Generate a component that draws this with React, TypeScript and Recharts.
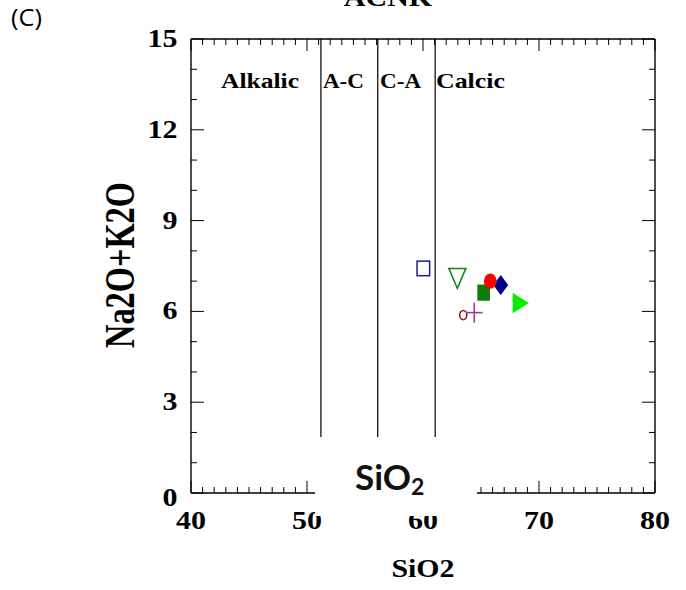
import React from "react";
import { ScatterChart, Scatter, XAxis, YAxis, ReferenceLine } from "recharts";

// sample points: SiO2 vs Na2O+K2O
const sio2 = [60.03, 62.96, 63.47, 64.42, 65.23, 66.7, 65.8, 68.42];
const alkalis = [7.42, 7.09, 5.88, 5.96, 6.62, 6.87, 7.0, 6.28];
const markerKinds = [
  "openSquare",
  "openTriangleDown",
  "openCircle",
  "plus",
  "square",
  "diamond",
  "circle",
  "triangleRight",
];
const markerColors = ["#1c1c8a", "#168016", "#8b1a1a", "#9b3a9b", "#0a7d0a", "#000088", "#ff0000", "#00f000"];

// axes
const xTicks = Array.from({ length: 41 }, (_, i) => 40 + i);
const yTicks = Array.from({ length: 16 }, (_, i) => i);
const xLabelled = [40, 50, 60, 70, 80];
const yLabelled = [0, 3, 6, 9, 12, 15];

// Peacock fields
const fieldNames = ["Alkalic", "A-C", "C-A", "Calcic"];
const fieldBounds = [40, 51.2, 56.1, 61.05];
const fieldLabelWidths = [78, 41, 41, 69];
const fieldLabelDx = [30, 2, 2.3, 0.8];

const serif = "Liberation Serif";
const plotHeight = 454;

function Marker({ cx, cy, kind, color }: any) {
  switch (kind) {
    case "openSquare":
      return <rect x={cx - 6.3} y={cy - 7.3} width={12.6} height={14.6} fill="none" stroke={color} strokeWidth={1.5} />;
    case "openTriangleDown":
      return (
        <polygon
          points={`${cx - 8.5},${cy - 10} ${cx + 8.5},${cy - 10} ${cx},${cy + 10}`}
          fill="none"
          stroke={color}
          strokeWidth={1.5}
        />
      );
    case "openCircle":
      return <ellipse cx={cx} cy={cy} rx={3.6} ry={4.6} fill="none" stroke={color} strokeWidth={1.5} />;
    case "plus":
      return (
        <g stroke={color} strokeWidth={1.6}>
          <line x1={cx - 8.3} x2={cx + 8.3} y1={cy} y2={cy} />
          <line x1={cx} x2={cx} y1={cy - 10} y2={cy + 10} />
        </g>
      );
    case "square":
      return <rect x={cx - 6.3} y={cy - 8.1} width={12.6} height={16.2} fill={color} />;
    case "diamond":
      return <polygon points={`${cx},${cy - 10} ${cx + 7.5},${cy} ${cx},${cy + 10} ${cx - 7.5},${cy}`} fill={color} />;
    case "circle":
      return <ellipse cx={cx} cy={cy} rx={6.4} ry={7.7} fill={color} />;
    case "triangleRight":
      return <polygon points={`${cx - 8},${cy - 10.3} ${cx - 8},${cy + 10.3} ${cx + 8.2},${cy}`} fill={color} />;
    default:
      return null;
  }
}

// bottom axis tick, also mirrors the inward tick on the top frame
function BottomTick({ x, y, payload }: any) {
  const v = payload.value;
  const major = xLabelled.includes(v);
  const len = major ? 12 : 6;
  const top = y - plotHeight;
  return (
    <g>
      <line x1={x} x2={x} y1={y} y2={y - len} stroke="#000" strokeWidth={1} />
      <line x1={x} x2={x} y1={top} y2={top + len} stroke="#000" strokeWidth={1} />
      {major && (
        <text
          transform={`translate(${x},${y + 36}) scale(1.2,1)`}
          textAnchor="middle"
          fontFamily={serif}
          fontWeight="bold"
          fontSize={25}
          fill="#000"
        >
          {v}
        </text>
      )}
    </g>
  );
}

function LeftTick({ x, y, payload }: any) {
  const v = payload.value;
  const major = yLabelled.includes(v);
  return (
    <g>
      <line x1={x} x2={x + (major ? 13 : 6)} y1={y} y2={y} stroke="#000" strokeWidth={1} />
      {major && (
        <text
          transform={`translate(${x - 13.5},${y + (v === 0 ? 13 : 8)}) scale(1.2,1)`}
          textAnchor="end"
          fontFamily={serif}
          fontWeight="bold"
          fontSize={25}
          fill="#000"
        >
          {v}
        </text>
      )}
    </g>
  );
}

function RightTick({ x, y, payload }: any) {
  const major = yLabelled.includes(payload.value);
  return <line x1={x} x2={x - (major ? 13 : 6)} y1={y} y2={y} stroke="#000" strokeWidth={1} />;
}

export default function App() {
  return (
    <div style={{ position: "absolute", left: 0, top: 0, width: 686, height: 590, background: "#fff" }}>
      <ScatterChart width={686} height={590} margin={{ top: 38, right: 30, bottom: 57, left: 131 }}>
        <XAxis
          xAxisId={0}
          dataKey="x"
          type="number"
          domain={[40, 80]}
          ticks={xTicks}
          interval={0}
          height={40}
          tickSize={0}
          tickMargin={0}
          tickLine={false}
          axisLine={{ stroke: "#000", strokeWidth: 1.4 }}
          tick={<BottomTick />}
          allowDataOverflow
        />
        <XAxis
          xAxisId="top"
          orientation="top"
          type="number"
          domain={[40, 80]}
          height={1}
          tickLine={false}
          axisLine={{ stroke: "#000", strokeWidth: 1.4 }}
          tick={false}
          allowDataOverflow
        />
        <YAxis
          yAxisId={0}
          dataKey="y"
          type="number"
          domain={[0, 15]}
          ticks={yTicks}
          interval={0}
          width={60}
          tickSize={0}
          tickMargin={0}
          tickLine={false}
          axisLine={{ stroke: "#000", strokeWidth: 1.4 }}
          tick={<LeftTick />}
          allowDataOverflow
        />
        <YAxis
          yAxisId="right"
          orientation="right"
          type="number"
          domain={[0, 15]}
          ticks={yTicks}
          interval={0}
          width={1}
          tickSize={0}
          tickMargin={0}
          tickLine={false}
          axisLine={{ stroke: "#000", strokeWidth: 1.4 }}
          tick={<RightTick />}
          allowDataOverflow
        />
        {fieldBounds.map((b, i) => (
          <ReferenceLine
            key={fieldNames[i]}
            xAxisId={0}
            yAxisId={0}
            x={b}
            stroke={i === 0 ? "none" : "#000"}
            strokeWidth={1.2}
            label={(p: any) => {
              const vb = p.viewBox || {};
              return (
                <text
                  x={vb.x + fieldLabelDx[i]}
                  y={vb.y + 49}
                  textLength={fieldLabelWidths[i]}
                  lengthAdjust="spacingAndGlyphs"
                  fontFamily={serif}
                  fontWeight="bold"
                  fontSize={22}
                  fill="#000"
                >
                  {fieldNames[i]}
                </text>
              );
            }}
          />
        ))}
        {sio2.map((x, i) => (
          <Scatter
            key={i}
            xAxisId={0}
            yAxisId={0}
            data={[{ x, y: alkalis[i] }]}
            isAnimationActive={false}
            shape={(p: any) => <Marker cx={p.cx} cy={p.cy} kind={markerKinds[i]} color={markerColors[i]} />}
          />
        ))}
      </ScatterChart>
      <svg
        width={686}
        height={590}
        style={{ position: "absolute", left: 0, top: 0, pointerEvents: "none" }}
      >
        <text x={11} y={26} fontFamily="Open Sans" fontSize={24} fill="#000" textLength={31} lengthAdjust="spacingAndGlyphs">
          (C)
        </text>
        <text
          transform="translate(388,6) scale(1.2,1)"
          textAnchor="middle"
          fontFamily={serif}
          fontWeight="bold"
          fontSize={25}
          fill="#000"
        >
          ACNK
        </text>
        <text
          transform="translate(423,577) scale(1.22,1)"
          textAnchor="middle"
          fontFamily={serif}
          fontWeight="bold"
          fontSize={24.5}
          fill="#000"
        >
          SiO2
        </text>
        <text
          transform="translate(134,265) scale(1.25,1) rotate(-90)"
          textAnchor="middle"
          textLength={166}
          lengthAdjust="spacingAndGlyphs"
          fontFamily={serif}
          fontWeight="bold"
          fontSize={34}
          fill="#000"
        >
          Na2O+K2O
        </text>
        <rect x={315} y={437} width={162} height={79} fill="#fff" />
        <text x={355} y={490} fontFamily="Lato" fontWeight="bold" fontSize={35} fill="#111">
          SiO
          <tspan fontSize={23} dy={5}>
            2
          </tspan>
        </text>
      </svg>
    </div>
  );
}
